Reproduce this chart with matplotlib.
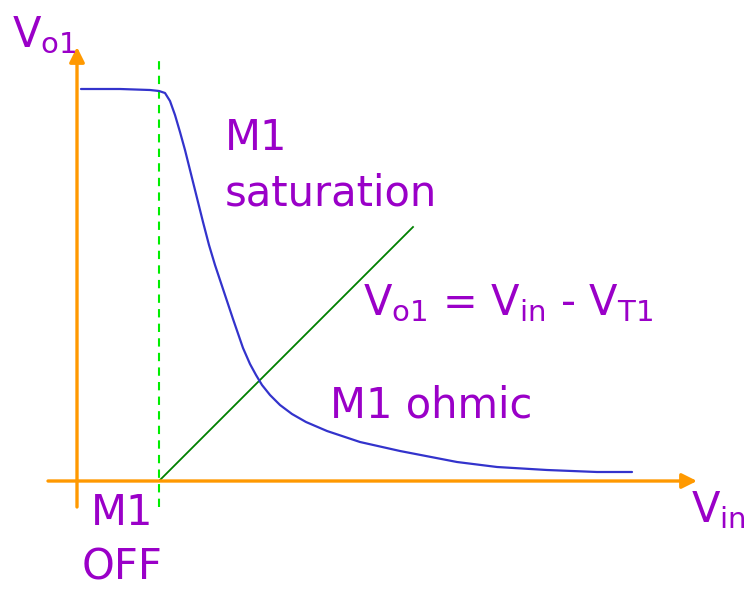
import matplotlib.pyplot as plt
import numpy as np

# transfer curve of the inverter stage (Vin, Vo1) in arbitrary units
vin_curve = [0.04, 0.43, 0.73, 0.82, 0.88, 0.93, 0.98, 1.03, 1.08, 1.14, 1.20, 1.26,
             1.32, 1.38, 1.45, 1.56, 1.66, 1.73, 1.79, 1.85, 1.93, 2.03, 2.15, 2.29,
             2.50, 2.83, 3.23, 3.80, 4.20, 4.70, 5.20, 5.55]
vo1_curve = [3.92, 3.92, 3.91, 3.90, 3.88, 3.80, 3.66, 3.49, 3.31, 3.07, 2.83, 2.59,
             2.36, 2.16, 1.95, 1.62, 1.33, 1.17, 1.06, 0.96, 0.86, 0.76, 0.67, 0.59,
             0.50, 0.39, 0.30, 0.19, 0.14, 0.11, 0.09, 0.09]

VT1 = 0.82                      # threshold of M1
vin_line = [0.82, 3.36]         # Vo1 = Vin - VT1 boundary

purple = '#9a00c8'
orange = '#ff9900'

plt.rcParams['font.family'] = ['DejaVu Sans']
fig = plt.figure(figsize=(7.5, 5.89), dpi=100)
ax = fig.add_axes([0, 0, 1, 1])
ax.set_xlim(-0.77, 6.73)
ax.set_ylim(-1.08, 4.81)
ax.axis('off')

# axes with arrows
arrow = dict(arrowstyle='-|>,head_length=0.9,head_width=0.45', color=orange, lw=2.4,
             shrinkA=0, shrinkB=0)
ax.annotate('', xy=(0, 4.34), xytext=(0, -0.26), arrowprops=arrow)
ax.annotate('', xy=(6.20, 0), xytext=(-0.29, 0), arrowprops=arrow)

# threshold marker
ax.plot([VT1, VT1], [-0.26, 4.24], color='#00ee00', lw=1.5, ls=(0, (4, 3)))

# saturation/ohmic boundary
ax.plot(vin_line, [v - VT1 for v in vin_line], color='#008000', lw=1.3)

# transfer curve
ax.plot(vin_curve, vo1_curve, color='#3333cc', lw=1.6, solid_capstyle='round',
        solid_joinstyle='round')

fs = 30
ax.text(-0.65, 4.34, r'V$_{\mathregular{o1}}$', color=purple, fontsize=fs, va='baseline')
ax.text(1.48, 3.31, 'M1', color=purple, fontsize=fs, va='baseline')
ax.text(1.48, 2.75, 'saturation', color=purple, fontsize=fs, va='baseline')
ax.text(2.86, 1.66, r'V$_{\mathregular{o1}}$ = V$_{\mathregular{in}}$ - V$_{\mathregular{T1}}$',
        color=purple, fontsize=fs, va='baseline')
ax.text(2.53, 0.63, 'M1 ohmic', color=purple, fontsize=fs, va='baseline')
ax.text(0.45, -0.44, 'M1', color=purple, fontsize=fs, va='baseline', ha='center')
ax.text(0.45, -0.99, 'OFF', color=purple, fontsize=fs, va='baseline', ha='center')
ax.text(6.14, -0.41, r'V$_{\mathregular{in}}$', color=purple, fontsize=fs, va='baseline')

plt.savefig('out.png', dpi=100)
